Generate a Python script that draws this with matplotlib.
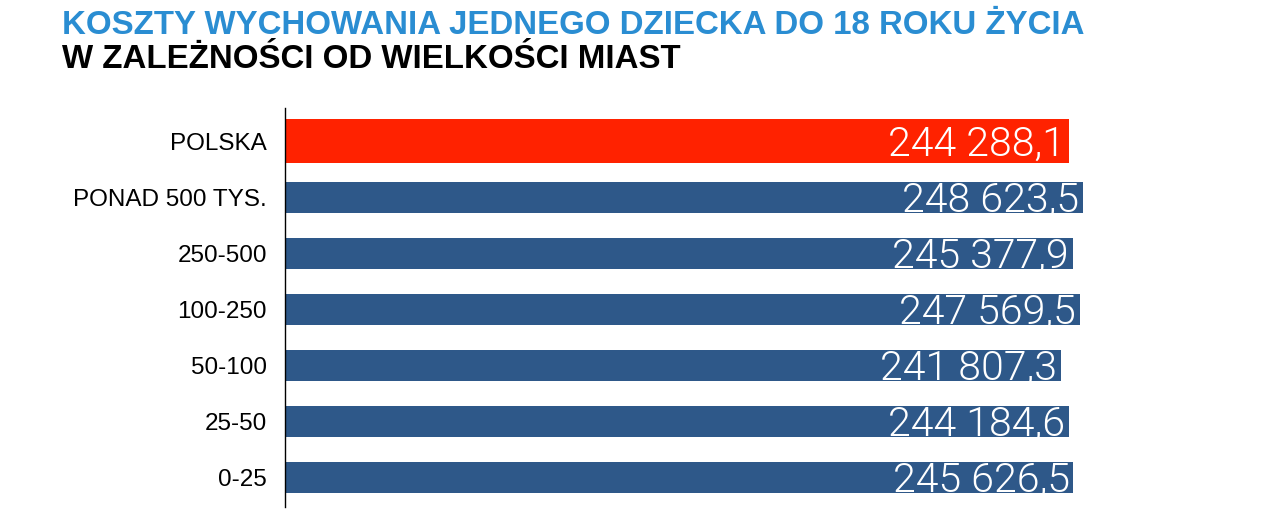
import matplotlib.pyplot as plt

categories = ["POLSKA", "PONAD 500 TYS.", "250-500", "100-250", "50-100", "25-50", "0-25"]
values = [244288.1, 248623.5, 245377.9, 247569.5, 241807.3, 244184.6, 245626.5]
labels = ["244 288,1", "248 623,5", "245 377,9", "247 569,5", "241 807,3", "244 184,6", "245 626,5"]

red = "#ff2200"
blue = "#2e5889"

fig = plt.figure(figsize=(12.63, 5.23), dpi=100)
ax = fig.add_axes([285 / 1263, 16 / 523, 978 / 1263, 399 / 523])

pos = list(range(len(categories)))
colors = [red] + [blue] * (len(categories) - 1)
heights = [0.77] + [0.55] * (len(categories) - 1)
ax.barh(pos, values, height=heights, color=colors)

for p, v, lab in zip(pos, values, labels):
    ax.text(v - 1200, p + 0.06, lab, ha="right", va="center", color="white",
            fontsize=29.5, family=["Roboto", "DejaVu Sans"], fontweight=300)

ax.set_xlim(0, 304700)
ax.set_ylim(6.53, -0.59)
ax.set_yticks(pos)
ax.set_yticklabels(categories, fontsize=17.5, family=["Liberation Sans", "DejaVu Sans"])
ax.tick_params(axis="y", length=0, pad=13)
ax.set_xticks([])
for s in ["top", "right", "bottom"]:
    ax.spines[s].set_visible(False)
ax.spines["left"].set_linewidth(1.0)

fig.text(62 / 1263, 1 - 25 / 523, "KOSZTY WYCHOWANIA JEDNEGO DZIECKA DO 18 ROKU ŻYCIA",
         color="#2a8dd2", fontsize=23.8, fontweight="bold", va="center",
         family=["Liberation Sans", "DejaVu Sans"])
fig.text(62 / 1263, 1 - 60 / 523, "W ZALEŻNOŚCI OD WIELKOŚCI MIAST",
         color="black", fontsize=23.8, fontweight="bold", va="center",
         family=["Liberation Sans", "DejaVu Sans"])

fig.savefig("out.png", dpi=100)
